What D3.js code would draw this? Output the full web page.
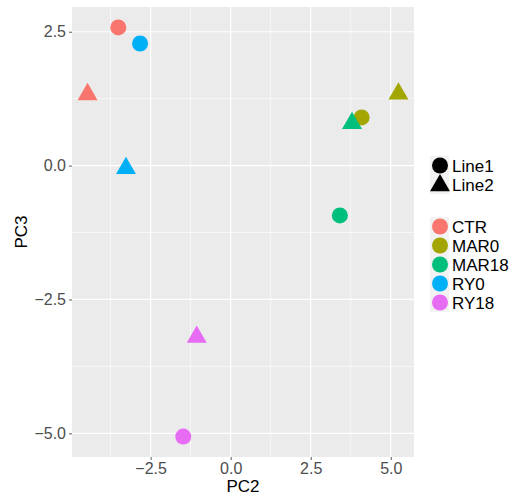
<!DOCTYPE html>
<html>
<head>
<meta charset="utf-8">
<script src="https://cdn.jsdelivr.net/npm/d3@7"></script>
<style>
  body { margin: 0; background: #fff; }
  svg { display: block; font-family: "Liberation Sans", Arial, sans-serif; }
</style>
</head>
<body>
<svg id="chart" width="514" height="498"></svg>
<script>
// data
const samples = ['CTR', 'RY0', 'CTR', 'RY0', 'MAR0', 'MAR0', 'MAR18', 'MAR18', 'RY18', 'RY18'];
const lines   = ['Line1', 'Line1', 'Line2', 'Line2', 'Line2', 'Line1', 'Line2', 'Line1', 'Line2', 'Line1'];
const pc2 = [-3.51, -2.83, -4.47, -3.27, 5.24, 4.09, 3.79, 3.41, -1.06, -1.48];
const pc3 = [2.58, 2.28, 1.33, -0.05, 1.34, 0.90, 0.79, -0.93, -3.20, -5.06];

const groups = ['CTR', 'MAR0', 'MAR18', 'RY0', 'RY18'];
const groupColors = ['#F8766D', '#A3A500', '#00BF7D', '#00B0F6', '#E76BF3'];
const shapes = ['Line1', 'Line2'];
const xTicks = [-2.5, 0, 2.5, 5];
const yTicks = [-5, -2.5, 0, 2.5];

const points = pc2.map((x, i) => ({x, y: pc3[i], group: samples[i], line: lines[i]}));

const svg = d3.select('#chart');
const panel = {left: 72, right: 414, top: 7, bottom: 457};

// ggplot style 5% expansion
function expand(ext) {
    const pad = (ext[1] - ext[0]) * 0.05;
    return [ext[0] - pad, ext[1] + pad];
}

const x = d3.scaleLinear().domain(expand(d3.extent(pc2))).range([panel.left, panel.right]);
const y = d3.scaleLinear().domain(expand(d3.extent(pc3))).range([panel.bottom, panel.top]);
const color = d3.scaleOrdinal().domain(groups).range(groupColors);
const symbol = d3.scaleOrdinal().domain(shapes).range([d3.symbolCircle, d3.symbolTriangle]);
const symSize = {Line1: Math.PI * 64, Line2: 173};

svg.append('rect')
    .attr('x', panel.left).attr('y', panel.top)
    .attr('width', panel.right - panel.left)
    .attr('height', panel.bottom - panel.top)
    .attr('fill', '#EBEBEB');

// minor grid lines halfway between breaks
const mid = t => t.slice(0, -1).map((d, i) => (d + t[i + 1]) / 2);
const xMinor = mid([-5, ...xTicks]).filter(d => d > x.domain()[0]);
const yMinor = mid([...yTicks, 5]).filter(d => d < y.domain()[1]);

svg.append('g').selectAll('line').data(xMinor).join('line')
    .attr('x1', d => x(d)).attr('x2', d => x(d))
    .attr('y1', panel.top).attr('y2', panel.bottom)
    .attr('stroke', '#fff').attr('stroke-width', 0.6);
svg.append('g').selectAll('line').data(yMinor).join('line')
    .attr('y1', d => y(d)).attr('y2', d => y(d))
    .attr('x1', panel.left).attr('x2', panel.right)
    .attr('stroke', '#fff').attr('stroke-width', 0.6);

svg.append('g').selectAll('line').data(xTicks).join('line')
    .attr('x1', d => x(d)).attr('x2', d => x(d))
    .attr('y1', panel.top).attr('y2', panel.bottom)
    .attr('stroke', '#fff').attr('stroke-width', 1.2);
svg.append('g').selectAll('line').data(yTicks).join('line')
    .attr('y1', d => y(d)).attr('y2', d => y(d))
    .attr('x1', panel.left).attr('x2', panel.right)
    .attr('stroke', '#fff').attr('stroke-width', 1.2);

// axes
const fmt = d => d3.format('.1f')(d).replace('-', '\u2212');
const xAxis = svg.append('g')
    .attr('transform', `translate(0,${panel.bottom})`)
    .call(d3.axisBottom(x).tickValues(xTicks).tickSize(3).tickPadding(3).tickFormat(fmt));
const yAxis = svg.append('g')
    .attr('transform', `translate(${panel.left},0)`)
    .call(d3.axisLeft(y).tickValues(yTicks).tickSize(3).tickPadding(3).tickFormat(fmt));
[xAxis, yAxis].forEach(a => {
    a.select('.domain').remove();
    a.selectAll('.tick line').attr('stroke', '#333').attr('stroke-width', 0.8);
    a.selectAll('.tick text')
        .attr('fill', '#4D4D4D')
        .style('font-size', '16px')
        .style('font-family', '"Liberation Sans", Arial, sans-serif');
});

svg.append('text')
    .attr('x', (panel.left + panel.right) / 2).attr('y', 492)
    .attr('text-anchor', 'middle')
    .style('font-size', '17px')
    .text('PC2');
svg.append('text')
    .attr('transform', `translate(27,${(panel.top + panel.bottom) / 2}) rotate(-90)`)
    .attr('text-anchor', 'middle')
    .style('font-size', '17px')
    .text('PC3');

// points
svg.append('g').selectAll('path').data(points).join('path')
    .attr('transform', d => `translate(${x(d.x)},${y(d.y)})`)
    .attr('d', d => d3.symbol().type(symbol(d.line)).size(symSize[d.line])())
    .attr('fill', d => color(d.group));

// legends
const keyX = 430, keyW = 19, keyH = 19;
const shapeLeg = svg.append('g');
shapeLeg.selectAll('g').data(shapes).join('g')
    .attr('transform', (d, i) => `translate(${keyX},${156 + i * keyH})`)
    .each((d, i, n) => {
        const g = d3.select(n[i]);
        g.append('rect').attr('width', keyW).attr('height', keyH).attr('fill', '#F2F2F2');
        g.append('path')
            .attr('transform', `translate(${keyW / 2 + 0.5},${keyH / 2 + (d === 'Line2' ? 1 : 0)})`)
            .attr('d', d3.symbol().type(symbol(d)).size(symSize[d])())
            .attr('fill', '#000');
        g.append('text').attr('x', keyW + 3).attr('y', keyH / 2 + 6)
            .style('font-size', '17px').text(d);
    });

const colorLeg = svg.append('g');
colorLeg.selectAll('g').data(groups).join('g')
    .attr('transform', (d, i) => `translate(${keyX},${217 + i * keyH})`)
    .each((d, i, n) => {
        const g = d3.select(n[i]);
        g.append('rect').attr('width', keyW).attr('height', keyH).attr('fill', '#F2F2F2');
        g.append('circle').attr('cx', keyW / 2 + 0.5).attr('cy', keyH / 2).attr('r', 8)
            .attr('fill', color(d));
        g.append('text').attr('x', keyW + 3).attr('y', keyH / 2 + 6)
            .style('font-size', '17px').text(d);
    });
</script>
</body>
</html>
